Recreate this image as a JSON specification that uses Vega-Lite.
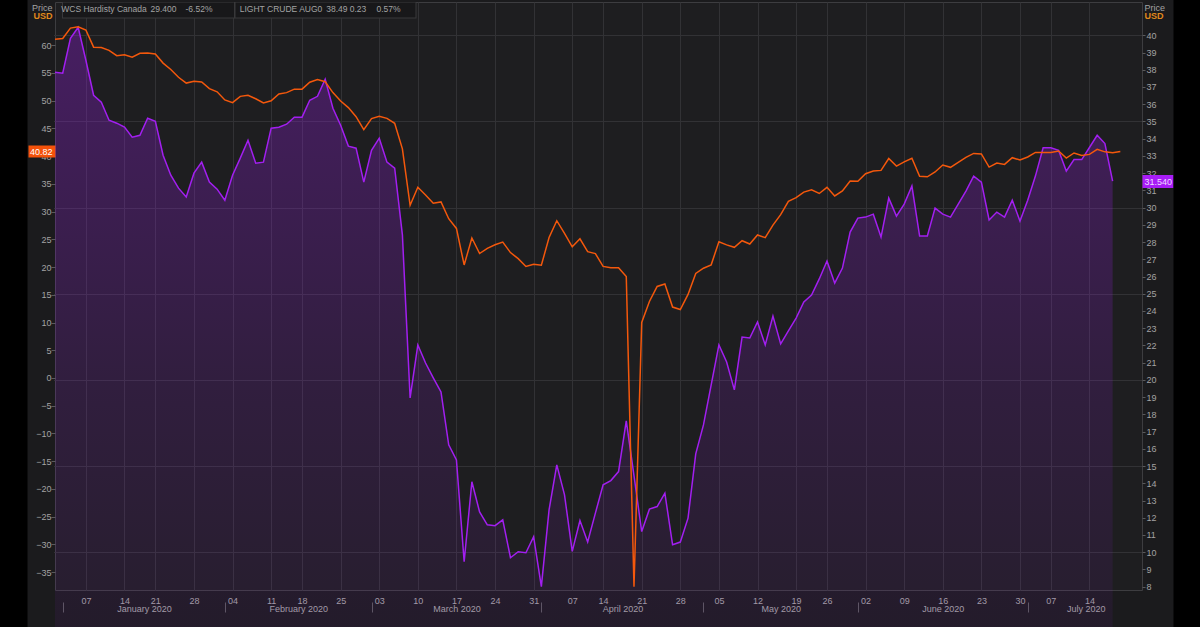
{
"$schema": "https://vega.github.io/schema/vega-lite/v6.json",
"width": 1087, "height": 588,
"autosize": {"type": "none"},
"padding": {"left": 55, "top": 2, "right": 58, "bottom": 37},
"background": "#1b1b1d",
"config": {
 "view": {"stroke": "#3d3d40", "fill": "#1e1e20"},
 "axis": {"labelFont": "Liberation Sans", "labelFontSize": 9, "labelColor": "#a3a3a3", "titleFont": "Liberation Sans", "titleFontSize": 9, "titleFontWeight": "normal", "titleColor": "#a3a3a3", "domain": false, "grid": false, "ticks": false, "labelOverlap": false, "labelFlush": false, "labelAngle": 0}
},
"datasets": {
 "wcs": [
{"date":"2019-12-31","price":37.86},{"date":"2020-01-02","price":37.80},{"date":"2020-01-03","price":39.83},{"date":"2020-01-06","price":40.46},{"date":"2020-01-07","price":38.55},{"date":"2020-01-08","price":36.52},{"date":"2020-01-09","price":36.12},{"date":"2020-01-10","price":35.07},{"date":"2020-01-13","price":34.90},{"date":"2020-01-14","price":34.67},{"date":"2020-01-15","price":34.09},{"date":"2020-01-16","price":34.20},{"date":"2020-01-17","price":35.19},{"date":"2020-01-21","price":35.01},{"date":"2020-01-22","price":33.04},{"date":"2020-01-23","price":31.88},{"date":"2020-01-24","price":31.13},{"date":"2020-01-27","price":30.61},{"date":"2020-01-28","price":32.0},{"date":"2020-01-29","price":32.64},{"date":"2020-01-30","price":31.48},{"date":"2020-01-31","price":31.07},
{"date":"2020-02-03","price":30.43},{"date":"2020-02-04","price":31.88},{"date":"2020-02-05","price":32.87},{"date":"2020-02-06","price":33.91},{"date":"2020-02-07","price":32.58},{"date":"2020-02-10","price":32.64},{"date":"2020-02-11","price":34.61},{"date":"2020-02-12","price":34.67},{"date":"2020-02-13","price":34.84},{"date":"2020-02-14","price":35.25},{"date":"2020-02-18","price":35.25},{"date":"2020-02-19","price":36.23},{"date":"2020-02-20","price":36.46},{"date":"2020-02-21","price":37.45},{"date":"2020-02-24","price":35.77},{"date":"2020-02-25","price":34.78},{"date":"2020-02-26","price":33.57},{"date":"2020-02-27","price":33.45},{"date":"2020-02-28","price":31.48},
{"date":"2020-03-02","price":33.33},{"date":"2020-03-03","price":34.03},{"date":"2020-03-04","price":32.64},{"date":"2020-03-05","price":32.29},{"date":"2020-03-06","price":28.42},{"date":"2020-03-09","price":18.96},{"date":"2020-03-10","price":22.03},{"date":"2020-03-11","price":20.98},{"date":"2020-03-12","price":20.12},{"date":"2020-03-13","price":19.30},{"date":"2020-03-16","price":16.23},{"date":"2020-03-17","price":15.36},{"date":"2020-03-18","price":9.45},{"date":"2020-03-19","price":14.09},{"date":"2020-03-20","price":12.34},{"date":"2020-03-23","price":11.59},{"date":"2020-03-24","price":11.54},{"date":"2020-03-25","price":11.88},{"date":"2020-03-26","price":9.68},{"date":"2020-03-27","price":10.03},{"date":"2020-03-30","price":9.97},{"date":"2020-03-31","price":10.90},
{"date":"2020-04-01","price":8.0},{"date":"2020-04-02","price":12.46},{"date":"2020-04-03","price":15.07},{"date":"2020-04-06","price":13.33},{"date":"2020-04-07","price":10.05},{"date":"2020-04-08","price":11.84},{"date":"2020-04-09","price":10.59},{"date":"2020-04-13","price":12.27},{"date":"2020-04-14","price":13.91},{"date":"2020-04-15","price":14.16},{"date":"2020-04-16","price":14.68},{"date":"2020-04-17","price":17.62},{"date":"2020-04-20","price":14.44},{"date":"2020-04-21","price":11.20},{"date":"2020-04-22","price":12.50},{"date":"2020-04-23","price":12.65},{"date":"2020-04-24","price":13.43},{"date":"2020-04-27","price":10.43},{"date":"2020-04-28","price":10.59},{"date":"2020-04-29","price":11.98},{"date":"2020-04-30","price":15.71},
{"date":"2020-05-01","price":17.39},{"date":"2020-05-04","price":19.71},{"date":"2020-05-05","price":22.03},{"date":"2020-05-06","price":21.04},{"date":"2020-05-07","price":19.42},{"date":"2020-05-08","price":22.49},{"date":"2020-05-11","price":22.43},{"date":"2020-05-12","price":23.36},{"date":"2020-05-13","price":22.03},{"date":"2020-05-14","price":23.71},{"date":"2020-05-15","price":22.09},{"date":"2020-05-18","price":22.84},{"date":"2020-05-19","price":23.59},{"date":"2020-05-20","price":24.52},{"date":"2020-05-21","price":24.93},{"date":"2020-05-22","price":25.86},{"date":"2020-05-26","price":26.90},{"date":"2020-05-27","price":25.62},{"date":"2020-05-28","price":26.49},{"date":"2020-05-29","price":28.58},
{"date":"2020-06-01","price":29.39},{"date":"2020-06-02","price":29.45},{"date":"2020-06-03","price":29.62},{"date":"2020-06-04","price":28.29},{"date":"2020-06-05","price":30.55},{"date":"2020-06-08","price":29.51},{"date":"2020-06-09","price":30.20},{"date":"2020-06-10","price":31.25},{"date":"2020-06-11","price":28.35},{"date":"2020-06-12","price":28.35},{"date":"2020-06-15","price":29.97},{"date":"2020-06-16","price":29.62},{"date":"2020-06-17","price":29.45},{"date":"2020-06-18","price":30.20},{"date":"2020-06-19","price":30.96},{"date":"2020-06-22","price":31.83},{"date":"2020-06-23","price":31.48},{"date":"2020-06-24","price":29.28},{"date":"2020-06-25","price":29.74},{"date":"2020-06-26","price":29.45},{"date":"2020-06-29","price":30.43},{"date":"2020-06-30","price":29.22},
{"date":"2020-07-01","price":30.43},{"date":"2020-07-02","price":31.83},{"date":"2020-07-06","price":33.47},{"date":"2020-07-07","price":33.47},{"date":"2020-07-08","price":33.33},{"date":"2020-07-09","price":32.12},{"date":"2020-07-10","price":32.79},{"date":"2020-07-13","price":32.79},{"date":"2020-07-14","price":33.49},{"date":"2020-07-15","price":34.20},{"date":"2020-07-16","price":33.72},{"date":"2020-07-17","price":31.54}
 ],
 "wti": [
{"date":"2019-12-31","price":61.06},{"date":"2020-01-02","price":61.18},{"date":"2020-01-03","price":63.05},{"date":"2020-01-06","price":63.27},{"date":"2020-01-07","price":62.70},{"date":"2020-01-08","price":59.61},{"date":"2020-01-09","price":59.56},{"date":"2020-01-10","price":59.04},{"date":"2020-01-13","price":58.08},{"date":"2020-01-14","price":58.23},{"date":"2020-01-15","price":57.81},{"date":"2020-01-16","price":58.52},{"date":"2020-01-17","price":58.54},{"date":"2020-01-21","price":58.38},{"date":"2020-01-22","price":56.74},{"date":"2020-01-23","price":55.59},{"date":"2020-01-24","price":54.19},{"date":"2020-01-27","price":53.14},{"date":"2020-01-28","price":53.48},{"date":"2020-01-29","price":53.33},{"date":"2020-01-30","price":52.14},{"date":"2020-01-31","price":51.56},
{"date":"2020-02-03","price":50.11},{"date":"2020-02-04","price":49.61},{"date":"2020-02-05","price":50.75},{"date":"2020-02-06","price":50.95},{"date":"2020-02-07","price":50.32},{"date":"2020-02-10","price":49.57},{"date":"2020-02-11","price":49.94},{"date":"2020-02-12","price":51.17},{"date":"2020-02-13","price":51.42},{"date":"2020-02-14","price":52.05},{"date":"2020-02-18","price":52.05},{"date":"2020-02-19","price":53.29},{"date":"2020-02-20","price":53.78},{"date":"2020-02-21","price":53.38},{"date":"2020-02-24","price":51.43},{"date":"2020-02-25","price":49.90},{"date":"2020-02-26","price":48.73},{"date":"2020-02-27","price":47.09},{"date":"2020-02-28","price":44.76},
{"date":"2020-03-02","price":46.75},{"date":"2020-03-03","price":47.18},{"date":"2020-03-04","price":46.78},{"date":"2020-03-05","price":45.90},{"date":"2020-03-06","price":41.28},{"date":"2020-03-09","price":31.13},{"date":"2020-03-10","price":34.36},{"date":"2020-03-11","price":32.98},{"date":"2020-03-12","price":31.50},{"date":"2020-03-13","price":31.73},{"date":"2020-03-16","price":28.70},{"date":"2020-03-17","price":26.95},{"date":"2020-03-18","price":20.37},{"date":"2020-03-19","price":25.22},{"date":"2020-03-20","price":22.43},{"date":"2020-03-23","price":23.36},{"date":"2020-03-24","price":24.01},{"date":"2020-03-25","price":24.49},{"date":"2020-03-26","price":22.60},{"date":"2020-03-27","price":21.51},{"date":"2020-03-30","price":20.09},{"date":"2020-03-31","price":20.48},
{"date":"2020-04-01","price":20.31},{"date":"2020-04-02","price":25.32},{"date":"2020-04-03","price":28.34},{"date":"2020-04-06","price":26.08},{"date":"2020-04-07","price":23.63},{"date":"2020-04-08","price":25.09},{"date":"2020-04-09","price":22.76},{"date":"2020-04-13","price":22.41},{"date":"2020-04-14","price":20.11},{"date":"2020-04-15","price":19.87},{"date":"2020-04-16","price":19.87},{"date":"2020-04-17","price":18.27},{"date":"2020-04-20","price":-37.63},{"date":"2020-04-21","price":10.01},{"date":"2020-04-22","price":13.78},{"date":"2020-04-23","price":16.50},{"date":"2020-04-24","price":16.94},{"date":"2020-04-27","price":12.78},{"date":"2020-04-28","price":12.34},{"date":"2020-04-29","price":15.06},{"date":"2020-04-30","price":18.84},
{"date":"2020-05-01","price":19.78},{"date":"2020-05-04","price":20.39},{"date":"2020-05-05","price":24.56},{"date":"2020-05-06","price":23.99},{"date":"2020-05-07","price":23.55},{"date":"2020-05-08","price":24.74},{"date":"2020-05-11","price":24.14},{"date":"2020-05-12","price":25.78},{"date":"2020-05-13","price":25.29},{"date":"2020-05-14","price":27.56},{"date":"2020-05-15","price":29.43},{"date":"2020-05-18","price":31.82},{"date":"2020-05-19","price":32.50},{"date":"2020-05-20","price":33.49},{"date":"2020-05-21","price":33.92},{"date":"2020-05-22","price":33.25},{"date":"2020-05-26","price":34.35},{"date":"2020-05-27","price":32.81},{"date":"2020-05-28","price":33.71},{"date":"2020-05-29","price":35.49},
{"date":"2020-06-01","price":35.44},{"date":"2020-06-02","price":36.81},{"date":"2020-06-03","price":37.29},{"date":"2020-06-04","price":37.41},{"date":"2020-06-05","price":39.55},{"date":"2020-06-08","price":38.19},{"date":"2020-06-09","price":38.94},{"date":"2020-06-10","price":39.60},{"date":"2020-06-11","price":36.34},{"date":"2020-06-12","price":36.26},{"date":"2020-06-15","price":37.12},{"date":"2020-06-16","price":38.38},{"date":"2020-06-17","price":37.96},{"date":"2020-06-18","price":38.84},{"date":"2020-06-19","price":39.75},{"date":"2020-06-22","price":40.46},{"date":"2020-06-23","price":40.37},{"date":"2020-06-24","price":38.01},{"date":"2020-06-25","price":38.72},{"date":"2020-06-26","price":38.49},{"date":"2020-06-29","price":39.70},{"date":"2020-06-30","price":39.27},
{"date":"2020-07-01","price":39.82},{"date":"2020-07-02","price":40.65},{"date":"2020-07-06","price":40.63},{"date":"2020-07-07","price":40.62},{"date":"2020-07-08","price":40.90},{"date":"2020-07-09","price":39.62},{"date":"2020-07-10","price":40.55},{"date":"2020-07-13","price":40.10},{"date":"2020-07-14","price":40.29},{"date":"2020-07-15","price":41.20},{"date":"2020-07-16","price":40.75},{"date":"2020-07-17","price":40.59},{"date":"2020-07-20","price":40.82}
 ]
},
"layer": [
 {
  "data": {"name": "wcs"},
  "layer": [
   {
    "mark": {"type": "area", "interpolate": "linear", "color": {"gradient": "linear", "x1": 0, "y1": 0, "x2": 0, "y2": 1, "stops": [{"offset": 0, "color": "rgba(150,30,225,0.34)"}, {"offset": 0.5, "color": "rgba(150,30,225,0.16)"}, {"offset": 1, "color": "rgba(150,30,225,0.03)"}]}},
    "encoding": {
     "x": {"field": "date", "type": "ordinal",
       "scale": {"type": "point", "padding": 0, "range": [0, 1088.5],
         "domain": ["2019-12-31","2020-01-02","2020-01-03","2020-01-06","2020-01-07","2020-01-08","2020-01-09","2020-01-10","2020-01-13","2020-01-14","2020-01-15","2020-01-16","2020-01-17","2020-01-21","2020-01-22","2020-01-23","2020-01-24","2020-01-27","2020-01-28","2020-01-29","2020-01-30","2020-01-31","2020-02-03","2020-02-04","2020-02-05","2020-02-06","2020-02-07","2020-02-10","2020-02-11","2020-02-12","2020-02-13","2020-02-14","2020-02-18","2020-02-19","2020-02-20","2020-02-21","2020-02-24","2020-02-25","2020-02-26","2020-02-27","2020-02-28","2020-03-02","2020-03-03","2020-03-04","2020-03-05","2020-03-06","2020-03-09","2020-03-10","2020-03-11","2020-03-12","2020-03-13","2020-03-16","2020-03-17","2020-03-18","2020-03-19","2020-03-20","2020-03-23","2020-03-24","2020-03-25","2020-03-26","2020-03-27","2020-03-30","2020-03-31","2020-04-01","2020-04-02","2020-04-03","2020-04-06","2020-04-07","2020-04-08","2020-04-09","2020-04-13","2020-04-14","2020-04-15","2020-04-16","2020-04-17","2020-04-20","2020-04-21","2020-04-22","2020-04-23","2020-04-24","2020-04-27","2020-04-28","2020-04-29","2020-04-30","2020-05-01","2020-05-04","2020-05-05","2020-05-06","2020-05-07","2020-05-08","2020-05-11","2020-05-12","2020-05-13","2020-05-14","2020-05-15","2020-05-18","2020-05-19","2020-05-20","2020-05-21","2020-05-22","2020-05-26","2020-05-27","2020-05-28","2020-05-29","2020-06-01","2020-06-02","2020-06-03","2020-06-04","2020-06-05","2020-06-08","2020-06-09","2020-06-10","2020-06-11","2020-06-12","2020-06-15","2020-06-16","2020-06-17","2020-06-18","2020-06-19","2020-06-22","2020-06-23","2020-06-24","2020-06-25","2020-06-26","2020-06-29","2020-06-30","2020-07-01","2020-07-02","2020-07-06","2020-07-07","2020-07-08","2020-07-09","2020-07-10","2020-07-13","2020-07-14","2020-07-15","2020-07-16","2020-07-17","2020-07-20","2020-07-21","2020-07-22","2020-07-23"]},
       "axis": {"orient": "bottom", "title": null, "values": ["2020-01-07","2020-01-14","2020-01-21","2020-01-28","2020-02-04","2020-02-11","2020-02-18","2020-02-25","2020-03-03","2020-03-10","2020-03-17","2020-03-24","2020-03-31","2020-04-07","2020-04-14","2020-04-21","2020-04-28","2020-05-05","2020-05-12","2020-05-19","2020-05-26","2020-06-02","2020-06-09","2020-06-16","2020-06-23","2020-06-30","2020-07-07","2020-07-14"],
         "labelExpr": "substring(datum.value, 8, 10)", "ticks": false, "tickSize": 0, "labelPadding": 6, "labelBaseline": "top", "grid": true, "gridColor": "#323235", "gridWidth": 1}},
     "y": {"field": "price", "type": "quantitative", "scale": {"domain": [7.808, 41.933], "zero": false, "nice": false},
       "axis": {"orient": "right", "values": [8,9,10,11,12,13,14,15,16,17,18,19,20,21,22,23,24,25,26,27,28,29,30,31,32,33,34,35,36,37,38,39,40],
         "ticks": true, "tickSize": 3, "tickColor": "#5a5a5c", "labelPadding": 1, "grid": true, "gridColor": "#323235",
         "gridOpacity": {"condition": {"test": "datum.value % 5 === 0", "value": 1}, "value": 0},
         "title": "Price", "titleAngle": 0, "titleX": 2, "titleY": 8, "titleAlign": "left", "titleBaseline": "alphabetic"}}
    }
   },
   {
    "mark": {"type": "line", "color": "#a21ff0", "strokeWidth": 1.5},
    "encoding": {
     "x": {"field": "date", "type": "ordinal",
       "axis": {"orient": "bottom", "title": null, "offset": 12,
         "values": ["2020-01-02","2020-02-03","2020-03-02","2020-04-01","2020-05-01","2020-06-01","2020-07-01","2020-01-16","2020-02-14","2020-03-17","2020-04-16","2020-05-15","2020-06-16","2020-07-13"],
         "ticks": true, "tickSize": 10, "tickColor": "#5a5a5c",
         "tickOpacity": {"condition": {"test": "indexof(['2020-01-02','2020-02-03','2020-03-02','2020-04-01','2020-05-01','2020-06-01','2020-07-01'], datum.value) >= 0", "value": 1}, "value": 0},
         "labelExpr": "indexof(['2020-01-02','2020-02-03','2020-03-02','2020-04-01','2020-05-01','2020-06-01','2020-07-01'], datum.value) >= 0 ? '' : utcFormat(toDate(datum.value), '%B %Y')",
         "labelOffset": {"condition": {"test": "indexof(['2020-01-16','2020-02-14','2020-04-16','2020-07-13'], datum.value) >= 0", "value": 4}, "value": 0},
         "labelPadding": -8, "labelBaseline": "top"}},
     "y": {"field": "price", "type": "quantitative", "scale": {"domain": [7.808, 41.933], "zero": false, "nice": false},
       "axis": {"orient": "right", "values": [31.54], "format": ".3f", "ticks": true, "tickSize": 31, "tickWidth": 13, "tickColor": "#a81cf7", "labelPadding": -29, "labelColor": "#ecdcff",
         "title": "USD", "titleAngle": 0, "titleX": 2, "titleY": 16, "titleAlign": "left", "titleBaseline": "alphabetic", "titleColor": "#e0891c", "titleFontWeight": "bold"}}
    }
   },
   {
    "mark": {"type": "line", "opacity": 0},
    "encoding": {
     "x": {"field": "date", "type": "ordinal",
       "axis": {"orient": "top", "title": null, "values": ["2020-01-17","2020-02-21"], "labels": false,
         "ticks": true, "tickSize": -16, "tickColor": "#38383b",
         "tickWidth": {"condition": {"test": "datum.value == '2020-01-17'", "value": 173}, "value": 182}}},
     "y": {"field": "price", "type": "quantitative", "scale": {"domain": [7.808, 41.933], "zero": false, "nice": false},
       "axis": {"orient": "right", "offset": 31, "values": [25], "ticks": true, "tickSize": 40, "tickWidth": 800, "tickColor": "#000000", "labels": false, "title": null}}
    }
   }
  ],
  "resolve": {"axis": {"x": "independent", "y": "independent"}}
 },
 {
  "data": {"name": "wti"},
  "layer": [
   {
    "mark": {"type": "line", "color": "#f4580c", "strokeWidth": 1.5},
    "encoding": {
     "x": {"field": "date", "type": "ordinal", "axis": null},
     "y": {"field": "price", "type": "quantitative", "scale": {"domain": [-38.2, 67.75], "zero": false, "nice": false},
       "axis": {"orient": "left", "values": [-35,-30,-25,-20,-15,-10,-5,0,5,10,15,20,25,30,35,40,45,50,55,60],
         "ticks": true, "tickSize": 4, "tickColor": "#5a5a5c", "labelPadding": 0,
         "title": "Price", "titleAngle": 0, "titleX": -3, "titleY": 8, "titleAlign": "right", "titleBaseline": "alphabetic"}}
    }
   },
   {
    "mark": {"type": "line", "opacity": 0},
    "encoding": {
     "x": {"field": "date", "type": "ordinal",
       "axis": {"orient": "top", "title": null,
         "values": ["2020-01-02","2020-01-17","2020-01-27","2020-02-05","2020-02-21","2020-02-26","2020-03-03"],
         "labelExpr": "datum.value == '2020-01-02' ? 'WCS Hardisty Canada' : datum.value == '2020-01-17' ? '29.400' : datum.value == '2020-01-27' ? '-6.52%' : datum.value == '2020-02-05' ? 'LIGHT CRUDE AUG0' : datum.value == '2020-02-21' ? '38.49' : datum.value == '2020-02-26' ? '0.23' : '0.57%'",
         "ticks": true, "tickSize": -15, "tickColor": "#18181a",
         "tickWidth": {"condition": {"test": "datum.value == '2020-01-17'", "value": 171}, "value": 180},
         "tickOpacity": {"condition": {"test": "datum.value == '2020-01-17' || datum.value == '2020-02-21'", "value": 1}, "value": 0},
         "labelOffset": {"condition": [{"test": "datum.value == '2020-01-02'", "value": -2}, {"test": "datum.value == '2020-01-17'", "value": 2.4}, {"test": "datum.value == '2020-01-27'", "value": -1.2}, {"test": "datum.value == '2020-02-05'", "value": -1}, {"test": "datum.value == '2020-02-21'", "value": 0.5}, {"test": "datum.value == '2020-02-26'", "value": 0.9}], "value": -3.2},
         "labelPadding": 6, "labelBaseline": "alphabetic", "labelAlign": "left", "labelFontSize": 8.5,
         "encode": {"labels": {"update": {
           "fill": {"signal": "datum.value == '2020-01-02' ? '#9b2fd6' : datum.value == '2020-01-27' ? '#d94763' : datum.value == '2020-02-05' ? '#e8541c' : (datum.value == '2020-02-26' || datum.value == '2020-03-03') ? '#33b46c' : '#c8c8c8'"}}}}}},
     "y": {"field": "price", "type": "quantitative", "scale": {"domain": [-38.2, 67.75], "zero": false, "nice": false},
       "axis": {"orient": "left", "values": [40.82], "format": ".2f", "ticks": true, "tickSize": 27, "tickWidth": 12, "tickColor": "#f4520a", "labelPadding": -24, "labelColor": "#ffffff",
         "title": "USD", "titleAngle": 0, "titleX": -3, "titleY": 16, "titleAlign": "right", "titleBaseline": "alphabetic", "titleColor": "#e0891c", "titleFontWeight": "bold"}}
    }
   },
   {
    "mark": {"type": "line", "opacity": 0},
    "encoding": {
     "x": {"field": "date", "type": "ordinal", "axis": null},
     "y": {"field": "price", "type": "quantitative", "scale": {"domain": [-38.2, 67.75], "zero": false, "nice": false},
       "axis": {"orient": "left", "offset": 28, "values": [20], "ticks": true, "tickSize": 40, "tickWidth": 800, "tickColor": "#000000", "labels": false, "title": null}}
    }
   }
  ],
  "resolve": {"axis": {"x": "independent", "y": "independent"}}
 }
],
"resolve": {"scale": {"y": "independent"}, "axis": {"x": "independent", "y": "independent"}}
}
